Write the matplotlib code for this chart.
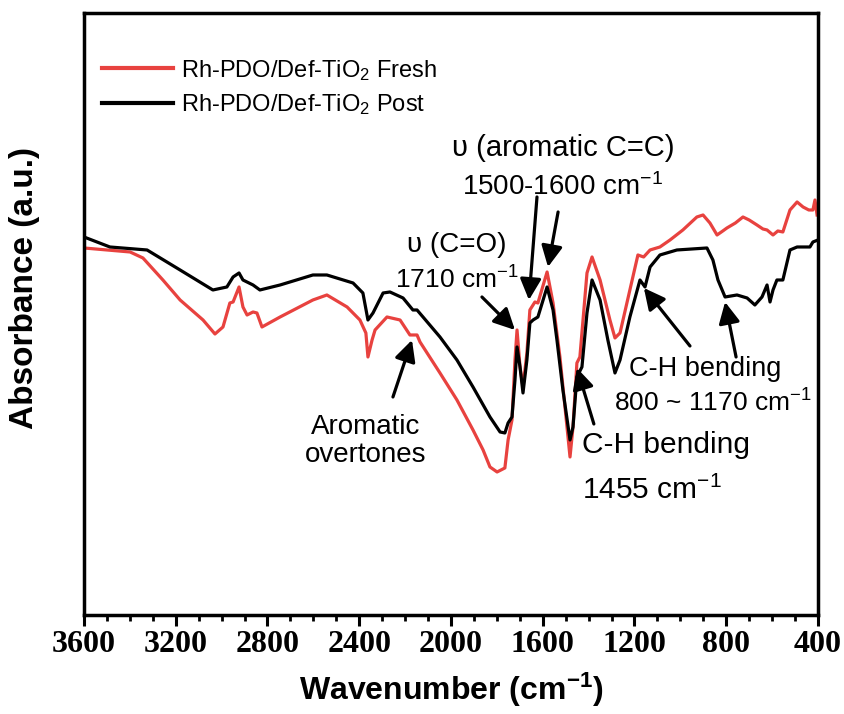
import numpy as np
import matplotlib
matplotlib.use("Agg")
import matplotlib.pyplot as plt
from matplotlib.ticker import MultipleLocator, NullLocator

plt.rcParams['font.family'] = ['Liberation Sans', 'DejaVu Sans']
plt.rcParams['mathtext.fontset'] = 'custom'
plt.rcParams['mathtext.rm'] = 'Liberation Sans'
plt.rcParams['mathtext.it'] = 'Liberation Sans:italic'
plt.rcParams['mathtext.bf'] = 'Liberation Sans:bold'

# FTIR spectra (absorbance in arbitrary units)
wn_post = [3600, 3487, 3325, 3181, 3038, 2977, 2950, 2924, 2907, 2863, 2833, 2745,
           2602, 2541, 2427, 2384, 2362, 2340, 2296, 2266, 2209, 2166, 2148, 2122,
           2048, 1974, 1904, 1830, 1786, 1765, 1751, 1734, 1721, 1712, 1699, 1686,
           1669, 1656, 1642, 1621, 1581, 1555, 1538, 1512, 1481, 1468, 1451, 1429,
           1407, 1385, 1350, 1316, 1285, 1263, 1220, 1176, 1154, 1132, 1089, 1015,
           884, 858, 836, 805, 753, 709, 675, 644, 622, 609, 596, 579, 553, 522,
           491, 435, 422, 400]
abs_post = [3.78, 3.68, 3.65, 3.45, 3.25, 3.28, 3.38, 3.42, 3.35, 3.30, 3.25, 3.30,
            3.40, 3.40, 3.32, 3.22, 2.95, 3.02, 3.22, 3.23, 3.17, 3.05, 3.05, 2.98,
            2.78, 2.55, 2.28, 1.98, 1.83, 1.82, 1.92, 1.98, 2.35, 2.68, 2.48, 2.22,
            2.55, 2.92, 2.95, 2.98, 3.28, 3.05, 2.75, 2.25, 1.75, 1.88, 2.38, 2.48,
            3.02, 3.35, 3.15, 2.75, 2.42, 2.55, 2.98, 3.35, 3.28, 3.48, 3.60, 3.65,
            3.67, 3.55, 3.35, 3.18, 3.20, 3.17, 3.10, 3.18, 3.30, 3.13, 3.25, 3.35,
            3.35, 3.65, 3.68, 3.68, 3.73, 3.75]

wn_fresh = [3600, 3399, 3343, 3256, 3181, 3081, 3029, 2994, 2964, 2950, 2924, 2907,
            2889, 2863, 2846, 2824, 2745, 2602, 2541, 2453, 2397, 2371, 2362, 2344,
            2331, 2279, 2222, 2179, 2148, 2135, 2048, 1974, 1904, 1860, 1830, 1799,
            1765, 1751, 1734, 1721, 1712, 1699, 1686, 1669, 1656, 1634, 1621, 1581,
            1555, 1525, 1481, 1468, 1451, 1438, 1407, 1385, 1350, 1307, 1285, 1263,
            1220, 1185, 1160, 1132, 1089, 1045, 989, 928, 901, 871, 840, 815, 797,
            760, 727, 700, 666, 640, 622, 596, 575, 553, 522, 491, 465, 440, 422,
            413, 404]
abs_fresh = [3.67, 3.63, 3.57, 3.35, 3.15, 2.95, 2.81, 2.88, 3.12, 3.13, 3.28, 3.08,
             3.00, 3.03, 3.02, 2.88, 2.98, 3.15, 3.20, 3.08, 2.95, 2.82, 2.58, 2.75,
             2.85, 2.98, 2.95, 2.80, 2.80, 2.73, 2.42, 2.15, 1.85, 1.65, 1.48, 1.43,
             1.47, 1.75, 1.95, 2.55, 2.85, 2.48, 2.28, 2.62, 3.05, 3.13, 3.12, 3.43,
             3.12, 2.58, 1.58, 1.88, 2.52, 2.58, 3.42, 3.58, 3.35, 2.95, 2.77, 2.82,
             3.25, 3.60, 3.58, 3.65, 3.68, 3.75, 3.85, 3.98, 4.00, 3.92, 3.80, 3.84,
             3.87, 3.92, 3.98, 3.95, 3.90, 3.86, 3.85, 3.80, 3.84, 3.83, 4.05, 4.13,
             4.08, 4.05, 4.05, 4.15, 4.00]

labels = ['Rh-PDO/Def-TiO$_2$ Fresh', 'Rh-PDO/Def-TiO$_2$ Post']
colors = ['#e8423f', 'black']

fig = plt.figure(figsize=(8.45, 7.14), dpi=100)
ax = fig.add_axes([0.0994, 0.1387, 0.8686, 0.8431])

ax.plot(wn_fresh, abs_fresh, color=colors[0], lw=2.3, label=labels[0])
ax.plot(wn_post, abs_post, color=colors[1], lw=2.3, label=labels[1])

ax.set_xlim(3600, 400)
ax.set_ylim(0, 6.02)

for s in ax.spines.values():
    s.set_linewidth(2.5)

ax.xaxis.set_major_locator(MultipleLocator(400))
ax.xaxis.set_minor_locator(MultipleLocator(100))
ax.yaxis.set_major_locator(NullLocator())
ax.tick_params(axis='x', which='major', direction='out', length=8, width=2.2, pad=3)
ax.tick_params(axis='x', which='minor', direction='out', length=4, width=2.0)
for lab in ax.get_xticklabels():
    lab.set_family('Liberation Serif')
    lab.set_fontweight('bold')
    lab.set_fontsize(23)

ax.set_xlabel(r'Wavenumber (cm$^{\mathbf{-1}}$)', fontsize=23, fontweight='bold')
ax.xaxis.set_label_coords(0.5, -0.092)
ax.set_ylabel('Absorbance (a.u.)', fontsize=24, fontweight='bold')
ax.yaxis.set_label_coords(-0.06, 0.543)

leg = ax.legend(loc='upper left', bbox_to_anchor=(-0.008, 0.965), frameon=False,
                fontsize=17, handlelength=3.0, handletextpad=0.35, labelspacing=0.42,
                borderaxespad=0.6)
for line in leg.get_lines():
    line.set_linewidth(3)

arrow = dict(arrowstyle='-|>', color='black', lw=2.3, mutation_scale=32,
             shrinkA=0, shrinkB=0)

# aromatic overtones
ax.annotate('', xy=(2170, 2.75), xytext=(2253, 2.18), arrowprops=arrow)
ax.text(2371, 1.74, 'Aromatic\novertones', fontsize=20, ha='center', va='center',
        linespacing=1.1)

# C=O stretch
ax.annotate('', xy=(1721, 2.85), xytext=(1865, 3.18), arrowprops=arrow)
ax.text(1975, 3.70, 'υ (C=O)', fontsize=20, ha='center', va='center')
ax.text(1975, 3.35, '1710 cm$^{-1}$', fontsize=19, ha='center', va='center')

# aromatic C=C
ax.annotate('', xy=(1660, 3.15), xytext=(1625, 4.18), arrowprops=arrow)
ax.annotate('', xy=(1577, 3.48), xytext=(1533, 4.03), arrowprops=arrow)
ax.text(1512, 4.67, 'υ (aromatic C=C)', fontsize=21, ha='center', va='center')
ax.text(1512, 4.28, '1500-1600 cm$^{-1}$', fontsize=20, ha='center', va='center')

# C-H bending 1455
ax.annotate('', xy=(1451, 2.47), xytext=(1377, 1.91), arrowprops=arrow)
ax.text(1429, 1.70, 'C-H bending', fontsize=21.5, ha='left', va='center')
ax.text(1429, 1.25, '1455 cm$^{-1}$', fontsize=21.5, ha='left', va='center')

# C-H bending 800 ~ 1170
ax.annotate('', xy=(1159, 3.27), xytext=(958, 2.69), arrowprops=arrow)
ax.annotate('', xy=(805, 3.13), xytext=(757, 2.58), arrowprops=arrow)
ax.text(1224, 2.46, 'C-H bending', fontsize=19.5, ha='left', va='center')
ax.text(1289, 2.12, '800 ~ 1170 cm$^{-1}$', fontsize=19, ha='left', va='center')

fig.savefig('out.png', dpi=100)
